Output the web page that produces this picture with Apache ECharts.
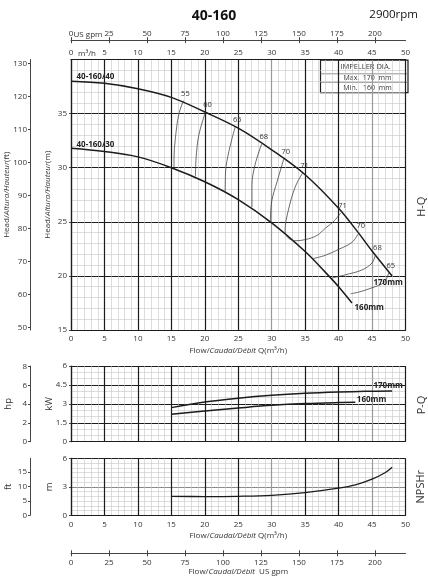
<!DOCTYPE html>
<html><head><meta charset="utf-8">
<script src="https://cdn.jsdelivr.net/npm/echarts@6/dist/echarts.min.js"></script>
<style>html,body{margin:0;padding:0;background:#fff}#c{width:428px;height:580px}</style>
</head><body><div id="c"></div>
<script>
// ---- data ----
const gpmTicks = [0, 25, 50, 75, 100, 125, 150, 175, 200];
const ftHeadTicks = [50, 60, 70, 80, 90, 100, 110, 120, 130];
const hpTicks = [0, 2, 4, 6, 8];
const ftNpshTicks = [0, 5, 10, 15];

const hq170 = [[0,38.0],[5,37.8],[10,37.3],[15,36.5],[20,35.15],[25,33.65],[30,31.65],[35,29.35],[40,26.25],[43,23.95],[45,22.3],[48,20.0]];
const hq160 = [[0,31.8],[5,31.5],[10,31.0],[15,30.0],[20,28.7],[25,27.05],[30,24.9],[35,22.25],[38,20.35],[40,19.0],[42,17.5]];

const iso55 = [[16.8,36.2],[16.1,34.9],[15.6,32.7],[15.4,30.9],[15.4,29.95]];
const iso60 = [[20.1,35.15],[19.1,33.0],[18.7,30.9],[18.6,29.2]];
const iso65 = [[24.55,33.8],[23.6,31.5],[23.1,29.6],[23.05,27.75]];
const iso68 = [[28.5,32.2],[27.5,30.25],[27.05,28.4],[27.05,26.35]];
const iso70 = [[31.8,30.8],[30.8,28.7],[30.0,26.9],[29.8,25.0]];
const iso71 = [[34.6,29.5],[33.5,28.2],[32.5,26.1],[32.0,24.2],[32.4,23.55],[33.5,23.25],[35.0,23.35],[36.8,23.75],[38.0,24.4],[39.2,25.0],[40.3,25.8]];
const iso70r = [[43.0,23.95],[42.0,23.1],[40.0,22.45],[38.0,21.9],[36.2,21.6]];
const iso68r = [[45.5,21.95],[45.0,21.2],[43.5,20.55],[41.0,20.1],[39.0,19.8]];
const iso65r = [[47.5,20.3],[46.8,19.4],[45.0,18.9],[43.0,18.5],[41.8,18.35]];

const p170 = [[15,2.7],[20,3.15],[25,3.45],[30,3.68],[35,3.84],[40,3.94],[44,3.99],[48,4.02]];
const p160 = [[15,2.17],[20,2.44],[25,2.67],[30,2.88],[35,3.02],[40,3.1],[42.5,3.12]];
const npsh = [[15,2.0],[20,1.97],[25,2.0],[30,2.1],[35,2.38],[40,2.85],[42.5,3.2],[45,3.8],[47,4.5],[48,5.05]];

// ---- styles / helpers ----
const FF = '"Open Sans","DejaVu Sans",sans-serif';
const M3H_PER_GPM = 0.227124;
const M_PER_FT = 0.3048;
const KW_PER_HP = 0.7457;
const BLACK = '#1c1c1c';
const vColors = [BLACK,BLACK,BLACK,BLACK,BLACK,BLACK,'#9a9a9a',BLACK,BLACK,'#9a9a9a',BLACK];
const minorStyle = {show:true, lineStyle:{color:'#c6c6c6', width:0.6}};
const lblStyle = {fontSize:8, color:'#333', fontFamily:FF};
const rich = {n:{fontSize:8,color:'#333',fontFamily:FF}, i:{fontSize:8,color:'#333',fontFamily:FF,fontStyle:'italic'}};
const nameStyle = {fontSize:8, color:'#333', fontFamily:FF, rich};

function labeled(data, labels) {
  return data.map((p, i) => labels[i] ? {value:p, label:Object.assign({show:true, fontSize:7.5, color:'#333', fontFamily:FF}, labels[i])} : {value:p});
}
function curve(data, xi, yi, width, color, labels) {
  return {
    type:'line', xAxisIndex:xi, yAxisIndex:yi, data:labeled(data, labels||{}),
    smooth:0.35, showSymbol:true, symbol:'circle', symbolSize:1,
    itemStyle:{color:'rgba(0,0,0,0)'},
    lineStyle:{color:color, width:width}, label:{show:false},
    silent:true, emphasis:{disabled:true}, animation:false, z:3
  };
}
const isoTop = t => ({formatter:t, position:'top', distance:2.5, offset:[2,0]});
const isoW = 0.75, isoC = '#3a3a3a';
const last = a => a.length - 1;
const boldLbl = (t, pos, dist, off) => ({formatter:t, position:pos, distance:dist, offset:off, fontWeight:'bold', fontSize:8, color:'#222'});

const series = [
  curve(hq170, 0, 0, 1.5, BLACK, {0:boldLbl('40-160/40','right',5,[0,-4]), [last(hq170)]:boldLbl('170mm','bottom',2,[-4,0])}),
  curve(hq160, 0, 0, 1.5, BLACK, {0:boldLbl('40-160/30','right',5,[0,-4]), [last(hq160)]:boldLbl('160mm','right',2,[0,5])}),
  curve(iso55, 0, 0, isoW, isoC, {0:isoTop('55')}),
  curve(iso60, 0, 0, isoW, isoC, {0:isoTop('60')}),
  curve(iso65, 0, 0, isoW, isoC, {0:isoTop('65')}),
  curve(iso68, 0, 0, isoW, isoC, {0:isoTop('68')}),
  curve(iso70, 0, 0, isoW, isoC, {0:isoTop('70')}),
  curve(iso71, 0, 0, isoW, isoC, {0:isoTop('71'), [last(iso71)]:isoTop('71')}),
  curve(iso70r, 0, 0, isoW, isoC, {0:isoTop('70')}),
  curve(iso68r, 0, 0, isoW, isoC, {0:isoTop('68')}),
  curve(iso65r, 0, 0, isoW, isoC, {0:isoTop('65')}),
  curve(p170, 4, 2, 1.5, BLACK, {[last(p170)]:boldLbl('170mm','top',1,[-4,0])}),
  curve(p160, 4, 2, 1.5, BLACK, {[last(p160)]:boldLbl('160mm','right',1,[0,-3])}),
  curve(npsh, 5, 4, 1.3, BLACK, {})
];

const axisLineBlack = {show:true, onZero:false, lineStyle:{color:BLACK, width:1.2}};
function flowAxis(grid, opts) {
  return Object.assign({
    type:'value', gridIndex:grid, min:0, max:50, interval:5, nameMoveOverlap:false,
    axisLine:axisLineBlack, axisTick:{show:false},
    axisLabel:Object.assign({margin:5}, lblStyle),
    splitLine:{show:true, lineStyle:{color:vColors, width:1.2}},
    minorTick:{show:false, splitNumber:5}, minorSplitLine:minorStyle
  }, opts);
}
function gpmAxis(grid, pos, offset, inner, opts) {
  return Object.assign({
    type:'value', gridIndex:grid, position:pos, offset:offset, min:0, max:50/M3H_PER_GPM, nameMoveOverlap:false,
    axisLine:{show:!inner, onZero:false, lineStyle:{color:'#444', width:1}},
    axisTick:{show:true, inside:inner, length:3, customValues:gpmTicks, lineStyle:{color:'#444', width:1}},
    axisLabel:Object.assign({show:!inner, customValues:gpmTicks, margin:inner?0:(pos==='top'?2:5)}, lblStyle),
    splitLine:{show:false}
  }, opts||{});
}
function unitAxis(grid, min, max, ticks, name, gap, fs) {
  return {
    type:'value', gridIndex:grid, position:'left', offset:41, min:min, max:max, nameMoveOverlap:false,
    axisLine:{show:true, onZero:false, lineStyle:{color:'#444', width:1}},
    axisTick:{show:true, length:2, customValues:ticks, lineStyle:{color:'#444'}},
    axisLabel:Object.assign({customValues:ticks, margin:3}, lblStyle),
    splitLine:{show:false},
    name:name, nameLocation:'middle', nameGap:gap, nameTextStyle:Object.assign({}, nameStyle, {fontSize:fs})
  };
}
function mainY(grid, min, max, interval, minorN, splitColor, name, gap, fs, extraLabel) {
  return {type:'value', gridIndex:grid, position:'left', min:min, max:max, interval:interval, nameMoveOverlap:false,
    axisLine:axisLineBlack, axisTick:{show:true, length:2, lineStyle:{color:'#444'}},
    axisLabel:Object.assign({margin:4}, lblStyle, extraLabel||{}),
    splitLine:{show:true, lineStyle:{color:splitColor, width:1.2}},
    minorTick:{show:false, splitNumber:minorN}, minorSplitLine:minorStyle,
    name:name, nameLocation:'middle', nameGap:gap, nameTextStyle:Object.assign({}, nameStyle, {fontSize:fs})};
}

const option = {
  animation:false,
  backgroundColor:'#fff',
  title:[
    {text:'40-160', left:'center', top:4, textStyle:{fontSize:14, fontWeight:'bold', color:'#111', fontFamily:FF}},
    {text:'2900rpm', right:5, top:4, textStyle:{fontSize:11.5, fontWeight:'normal', color:'#111', fontFamily:FF}}
  ],
  grid:[
    {left:71, right:22.5, top:59.5, height:270.5, outerBoundsMode:'none'},
    {left:71, right:22.5, top:366, height:75.7, outerBoundsMode:'none'},
    {left:71, right:22.5, top:458.3, height:57, outerBoundsMode:'none'}
  ],
  xAxis:[
    flowAxis(0, {position:'bottom', name:'{n|Flow/}{i|Caudal/Débit}{n| Q(m³/h)}', nameLocation:'middle', nameGap:17, nameTextStyle:nameStyle}),
    flowAxis(0, {position:'top', splitLine:{show:false}, minorSplitLine:{show:false}, axisLabel:Object.assign({margin:3}, lblStyle),
      name:'m³/h', nameLocation:'start', nameGap:-7, nameTextStyle:Object.assign({}, lblStyle, {align:'left', verticalAlign:'bottom', padding:[0,0,2,0]})}),
    gpmAxis(0, 'top', 19.3, false, {name:'US gpm', nameLocation:'start', nameGap:-2.5, nameTextStyle:Object.assign({}, lblStyle, {align:'left', verticalAlign:'bottom', padding:[0,0,1,0]})}),
    gpmAxis(0, 'top', 19.3, true),
    flowAxis(1, {position:'bottom', axisLabel:{show:false}}),
    flowAxis(2, {position:'bottom', name:'{n|Flow/}{i|Caudal/Débit}{n| Q(m³/h)}', nameLocation:'middle', nameGap:16.5, nameTextStyle:nameStyle}),
    gpmAxis(2, 'bottom', 38, false, {name:'{n|Flow/}{i|Caudal/Débit}{n|  US gpm}', nameLocation:'middle', nameGap:14.5, nameTextStyle:nameStyle}),
    gpmAxis(2, 'bottom', 38, true)
  ],
  yAxis:[
    mainY(0, 15, 40, 5, 5, BLACK, '{n|Head/}{i|Altura/Hauteur}{n|(m)}', 19, 8, {showMaxLabel:false}),
    unitAxis(0, 15/M_PER_FT, 40/M_PER_FT, ftHeadTicks, '{n|Head/}{i|Altura/Hauteur}{n|(ft)}', 19, 8),
    mainY(1, 0, 6, 1.5, 3, BLACK, 'kW', 17, 9.5),
    unitAxis(1, 0, 6/KW_PER_HP, hpTicks, 'hp', 17, 9.5),
    mainY(2, 0, 6, 3, 6, [BLACK,'#8a8a8a',BLACK], 'm', 17, 9.5),
    unitAxis(2, 0, 6/M_PER_FT, ftNpshTicks, 'ft', 17, 9.5)
  ],
  graphic:[
    {type:'group', left:318, top:59.5, z:100, children:[
      {type:'rect', shape:{x:0, y:0, width:87.5, height:32.5}, style:{fill:'#fff', stroke:BLACK, lineWidth:1.2}},
      {type:'line', shape:{x1:0, y1:13.7, x2:87.5, y2:13.7}, style:{stroke:'#777', lineWidth:0.8}},
      {type:'line', shape:{x1:0, y1:22.2, x2:87.5, y2:22.2}, style:{stroke:'#777', lineWidth:0.8}},
      {type:'text', x:45, y:7, style:{text:'IMPELLER DIA.', fontSize:7.5, fill:'#333', fontFamily:FF, align:'center', verticalAlign:'middle'}},
      {type:'text', x:47, y:18, style:{text:'Max.  170  mm', fontSize:7, fill:'#333', fontFamily:FF, align:'center', verticalAlign:'middle'}},
      {type:'text', x:47, y:27.5, style:{text:'Min.   160  mm', fontSize:7, fill:'#333', fontFamily:FF, align:'center', verticalAlign:'middle'}}
    ]},
    {type:'text', x:421.5, y:206.7, rotation:Math.PI/2, style:{text:'H-Q', fontSize:11, fill:'#333', fontFamily:FF, align:'center', verticalAlign:'middle'}},
    {type:'text', x:421.5, y:405, rotation:Math.PI/2, style:{text:'P-Q', fontSize:11, fill:'#333', fontFamily:FF, align:'center', verticalAlign:'middle'}},
    {type:'text', x:420.5, y:486.7, rotation:Math.PI/2, style:{text:'NPSHr', fontSize:11, fill:'#333', fontFamily:FF, align:'center', verticalAlign:'middle'}}
  ],
  series:series
};
const chart = echarts.init(document.getElementById('c'), null, {renderer:'canvas'});
chart.setOption(option);
</script></body></html>
